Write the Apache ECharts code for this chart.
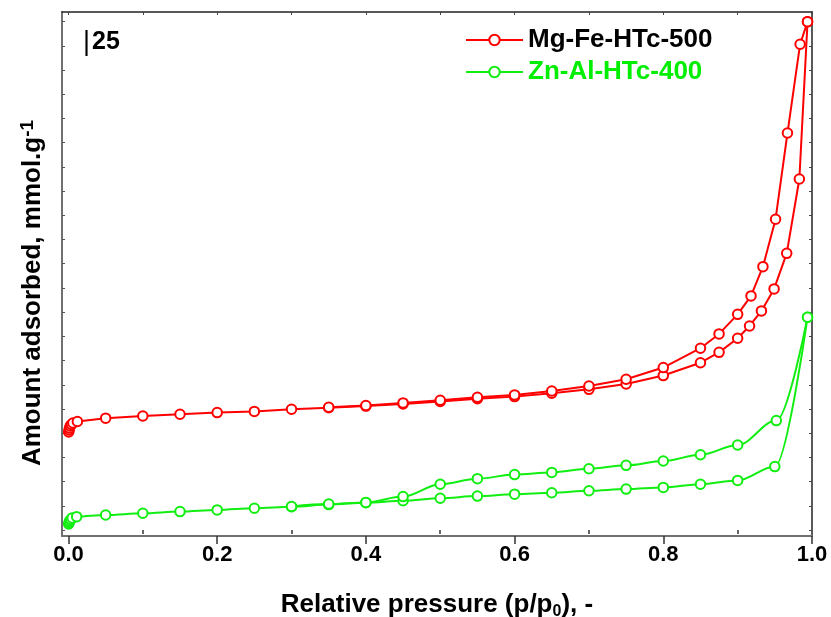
<!DOCTYPE html>
<html>
<head>
<meta charset="utf-8">
<script src="https://cdn.jsdelivr.net/npm/echarts@6/dist/echarts.min.js"></script>
<style>html,body{margin:0;padding:0;background:#fff}#c{width:831px;height:617px}</style>
</head>
<body>
<div id="c"></div>
<script>
// ---- tick values ----
const xTicks = [0, 0.2, 0.4, 0.6, 0.8, 1.0];
const xMinorTicks = [0.1, 0.3, 0.5, 0.7, 0.9];
const xTopTicks = [0, 0.1, 0.2, 0.3, 0.4, 0.5, 0.6, 0.7, 0.8, 0.9, 1.0];
const yTicks = [0, 1, 2, 3, 4, 5, 6, 7, 8, 9, 10, 11, 12, 13, 14, 15, 16, 17, 18, 19, 20, 21];

// ---- Mg-Fe-HTc-500 ----
const redAdsX = [0.0003, 0.0008, 0.0015, 0.0025, 0.004, 0.006, 0.012, 0.05, 0.10, 0.15, 0.20, 0.25, 0.30, 0.35, 0.40, 0.45, 0.50, 0.55, 0.60, 0.65, 0.70, 0.75, 0.80, 0.85, 0.875, 0.90, 0.916, 0.932, 0.949, 0.966, 0.983, 0.994];
const redAdsY = [4.05, 4.13, 4.21, 4.30, 4.36, 4.42, 4.48, 4.62, 4.71, 4.78, 4.85, 4.90, 4.99, 5.05, 5.12, 5.21, 5.31, 5.42, 5.51, 5.65, 5.81, 6.03, 6.38, 6.91, 7.34, 7.92, 8.43, 9.05, 9.96, 11.43, 14.50, 21.00];
const redDesX = [0.994, 0.984, 0.967, 0.951, 0.934, 0.918, 0.90, 0.875, 0.85, 0.80, 0.75, 0.70, 0.65, 0.60, 0.55, 0.50, 0.45, 0.40, 0.35];
const redDesY = [21.00, 20.07, 16.40, 12.84, 10.88, 9.67, 8.91, 8.10, 7.51, 6.71, 6.23, 5.95, 5.74, 5.58, 5.48, 5.36, 5.25, 5.14, 5.07];

// ---- Zn-Al-HTc-400 ----
const greenAdsX = [0.0003, 0.0008, 0.0015, 0.003, 0.005, 0.011, 0.05, 0.10, 0.15, 0.20, 0.25, 0.30, 0.35, 0.40, 0.45, 0.50, 0.55, 0.60, 0.65, 0.70, 0.75, 0.80, 0.85, 0.90, 0.95, 0.994];
const greenAdsY = [0.25, 0.31, 0.37, 0.43, 0.50, 0.55, 0.62, 0.69, 0.76, 0.83, 0.90, 0.96, 1.05, 1.13, 1.21, 1.31, 1.40, 1.48, 1.54, 1.62, 1.69, 1.76, 1.89, 2.05, 2.62, 8.79];
const greenDesX = [0.994, 0.952, 0.90, 0.85, 0.80, 0.75, 0.70, 0.65, 0.60, 0.55, 0.50, 0.45, 0.40, 0.35, 0.30];
const greenDesY = [8.79, 4.52, 3.51, 3.11, 2.85, 2.67, 2.53, 2.38, 2.29, 2.12, 1.89, 1.38, 1.14, 1.07, 0.97];

const seriesNames = ['Mg-Fe-HTc-500', 'Zn-Al-HTc-400'];
const RED = '#ff0000';
const GREEN = '#11ee11';
const FONT = "'Liberation Sans', Arial, sans-serif";

const zip = (xs, ys) => xs.map((x, i) => [x, ys[i]]);

const X_MIN = -0.0087, X_MAX = 1.0, Y_MIN = -0.248, Y_MAX = 21.4;

function mkSeries(name, color, data, smooth) {
  return {
    name: name, type: 'line', xAxisIndex: 0, yAxisIndex: 0,
    data: data,
    smooth: smooth ? 0.35 : false,
    smoothMonotone: smooth ? 'x' : undefined,
    symbol: 'emptyCircle', symbolSize: 9.5, showAllSymbol: true,
    lineStyle: { color: color, width: 2 },
    itemStyle: { color: color, borderColor: color, borderWidth: 1.3 },
    emphasis: { disabled: true },
    animation: false
  };
}

const chart = echarts.init(document.getElementById('c'));
chart.setOption({
  animation: false,
  backgroundColor: '#fff',
  grid: { left: 62, right: 19, top: 12, bottom: 81, containLabel: false, outerBoundsMode: 'none' },
  legend: {
    orient: 'vertical', left: 460, top: 22,
    itemWidth: 57, itemHeight: 13, itemGap: 6,
    data: [
      { name: seriesNames[0], textStyle: { color: '#000' } },
      { name: seriesNames[1], textStyle: { color: '#00ee00' } }
    ],
    textStyle: { fontSize: 26, fontWeight: 'bold', fontFamily: FONT },
    selectedMode: false
  },
  xAxis: [
    {
      type: 'value', min: X_MIN, max: X_MAX, position: 'bottom',
      axisLine: { show: true, onZero: false, lineStyle: { color: '#707070', width: 2 } },
      axisTick: { show: true, inside: false, length: 8, customValues: xTicks, lineStyle: { color: '#333', width: 1.5 } },
      axisLabel: { customValues: xTicks, formatter: v => v.toFixed(1), margin: 8, color: '#000', fontSize: 22, fontWeight: 'bold', fontFamily: FONT },
      splitLine: { show: false },
      name: '{a|Relative pressure (p/p}{s|0}{a|), -}',
      nameLocation: 'middle', nameGap: 54,
      nameTextStyle: {
        rich: {
          a: { fontSize: 26, fontWeight: 'bold', fontFamily: FONT, color: '#000', lineHeight: 30 },
          s: { fontSize: 16, fontWeight: 'bold', fontFamily: FONT, color: '#000', lineHeight: 16, verticalAlign: 'bottom' }
        }
      }
    },
    {
      type: 'value', min: X_MIN, max: X_MAX, position: 'bottom',
      axisLine: { show: false },
      axisTick: { show: true, inside: false, length: 4, customValues: xMinorTicks, lineStyle: { color: '#333', width: 1.5 } },
      axisLabel: { show: false },
      splitLine: { show: false }
    },
    {
      type: 'value', min: X_MIN, max: X_MAX, position: 'top',
      axisLine: { show: true, onZero: false, lineStyle: { color: '#222', width: 1.5 } },
      axisTick: { show: true, inside: true, length: 3, customValues: xTopTicks, lineStyle: { color: '#444', width: 1 } },
      axisLabel: { show: false },
      splitLine: { show: false }
    }
  ],
  yAxis: [
    {
      type: 'value', min: Y_MIN, max: Y_MAX, position: 'left',
      axisLine: { show: true, onZero: false, lineStyle: { color: '#707070', width: 2 } },
      axisTick: { show: true, inside: true, length: 3, customValues: yTicks, lineStyle: { color: '#555', width: 1 } },
      axisLabel: { show: false },
      splitLine: { show: false }
    },
    {
      type: 'value', min: Y_MIN, max: Y_MAX, position: 'right',
      axisLine: { show: true, onZero: false, lineStyle: { color: '#222', width: 1.5 } },
      axisTick: { show: true, inside: true, length: 3, customValues: yTicks, lineStyle: { color: '#444', width: 1 } },
      axisLabel: { show: false },
      splitLine: { show: false }
    }
  ],
  graphic: [
    {
      type: 'text', x: 33, y: 293, rotation: Math.PI / 2,
      style: {
        text: '{a|Amount adsorbed, mmol.g}{s|-1}',
        align: 'center', verticalAlign: 'middle',
        rich: {
          a: { fontSize: 26, fontWeight: 'bold', fontFamily: FONT, fill: '#000', lineHeight: 30 },
          s: { fontSize: 19, fontWeight: 'bold', fontFamily: FONT, fill: '#000', lineHeight: 19, verticalAlign: 'top' }
        }
      }
    },
    {
      type: 'text', left: 83, top: 29,
      style: {
        text: '{b||}{n|25}',
        rich: {
          b: { fontSize: 27, fontWeight: 'normal', fontFamily: FONT, fill: '#000', padding: [0, 2, 0, 0] },
          n: { fontSize: 25, fontWeight: 'bold', fontFamily: FONT, fill: '#000' }
        }
      }
    }
  ],
  series: [
    mkSeries(seriesNames[0], RED, zip(redAdsX, redAdsY), false),
    mkSeries(seriesNames[0], RED, zip(redDesX, redDesY), false),
    mkSeries(seriesNames[1], GREEN, zip(greenAdsX, greenAdsY), true),
    mkSeries(seriesNames[1], GREEN, zip(greenDesX, greenDesY), true)
  ]
});
</script>
</body>
</html>
